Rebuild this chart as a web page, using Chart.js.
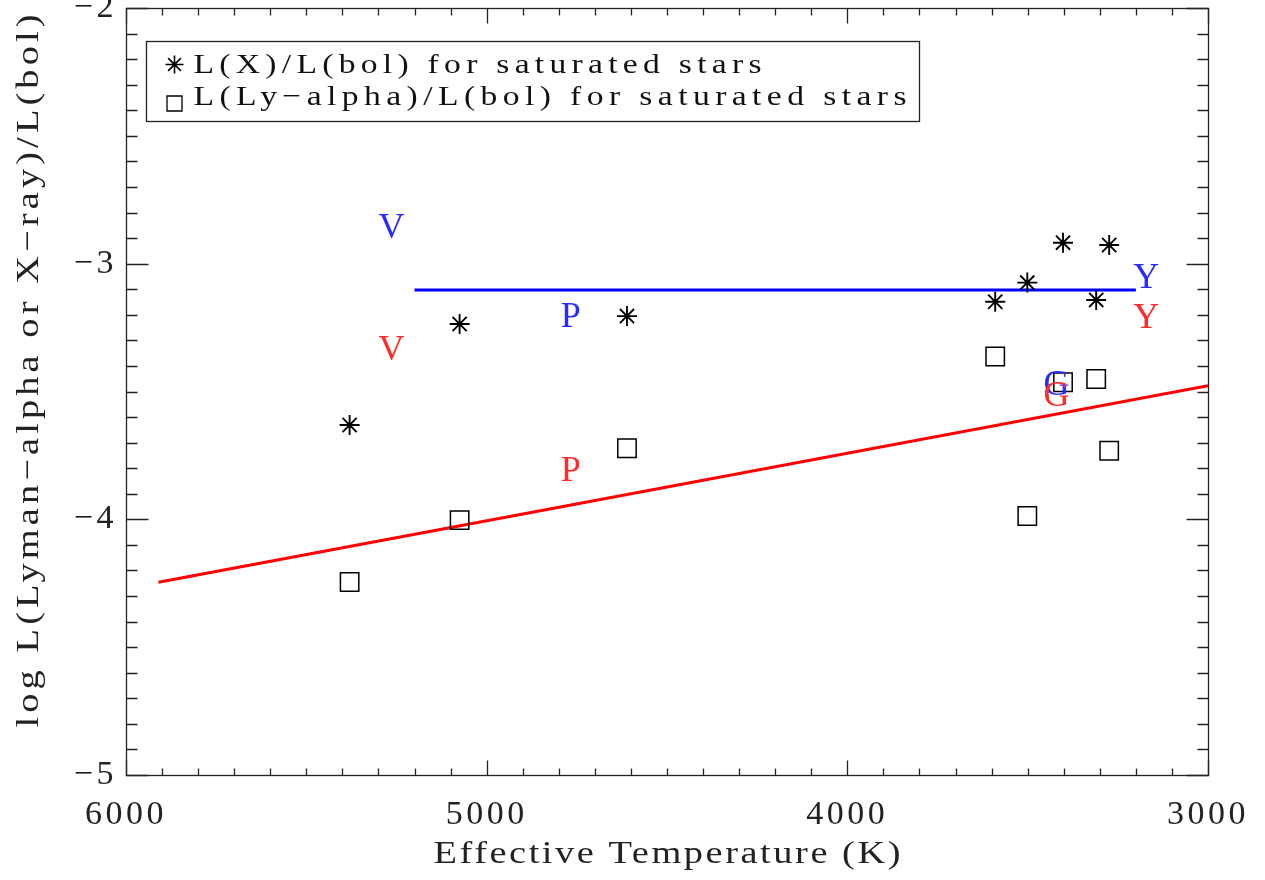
<!DOCTYPE html>
<html>
<head>
<meta charset="utf-8">
<script src="https://cdn.jsdelivr.net/npm/chart.js@4/dist/chart.umd.min.js"></script>
<style>
  html, body { margin: 0; padding: 0; background: #fff; }
  canvas { display: block; }
</style>
</head>
<body>
<canvas id="c" width="1265" height="880"></canvas>
<script>
// Effective temperature (K) of the saturated stars
const temperatures = [5380, 5075, 4611, 3590, 3501, 3402, 3310, 3274];
// log L(X)/L(bol) for each star
const logLxLbol = [-3.631, -3.236, -3.205, -3.149, -3.074, -2.918, -3.142, -2.927];
// log L(Ly-alpha)/L(bol) for each star
const logLyaLbol = [-4.245, -4.003, -3.722, -3.363, -3.987, -3.464, -3.451, -3.732];

// Fitted relations: X-ray (flat) and Ly-alpha (sloped)
const xrayFitT = [5200, 3200];
const xrayFitY = [-3.103, -3.103];
const lyaFitT = [5910, 3000];
const lyaFitY = [-4.246, -3.477];

// Letter markers for individual stars (V, P, G, Y)
const markLetters = ['V', 'P', 'G', 'Y'];
const markT = [5264, 4767, 3420, 3171];
const xrayMarkY = [-2.864, -3.212, -3.478, -3.060];
const lyaMarkY = [-3.338, -3.815, -3.521, -3.216];

// Axis ticks and titles
const tempTicks = [6000, 5000, 4000, 3000];
const logTicks = [-5, -4, -3, -2];
const tempMinorStep = 100;
const logMinorPerMajor = 10;
const xTitle = 'Effective Temperature (K)';
const yTitle = 'log L(Lyman\u2212alpha or X\u2212ray)/L(bol)';

const xrayLabel = 'L(X)/L(bol) for saturated stars';
const lyaLabel = 'L(Ly\u2212alpha)/L(bol) for saturated stars';

const SERIF = '"Liberation Serif", "Times New Roman", serif';
const INK = '#222';

function pts(xs, ys) { return xs.map((v, i) => ({ x: v, y: ys[i] })); }

function drawMarker(ctx, style, radius, x, y, lw) {
  ctx.save();
  ctx.strokeStyle = '#000';
  ctx.fillStyle = 'rgba(0,0,0,0)';
  ctx.lineWidth = lw;
  if (Chart.helpers && Chart.helpers.drawPoint) {
    Chart.helpers.drawPoint(ctx, { pointStyle: style, radius: radius, rotation: 0, borderWidth: lw }, x, y);
  } else if (style === 'rect') {
    const s = radius * Math.SQRT1_2;
    ctx.strokeRect(x - s, y - s, 2 * s, 2 * s);
  } else {
    ctx.beginPath();
    for (let k = 0; k < 4; k++) {
      const a = k * Math.PI / 4;
      ctx.moveTo(x - Math.cos(a) * radius, y - Math.sin(a) * radius);
      ctx.lineTo(x + Math.cos(a) * radius, y + Math.sin(a) * radius);
    }
    ctx.stroke();
  }
  ctx.restore();
}

// Wide, slightly stretched lettering that fills a given run length
function fitText(ctx, text, x, y, width, sx, align) {
  ctx.letterSpacing = '0px';
  const w0 = ctx.measureText(text).width;
  const sp = Math.max(0, (width / sx - w0) / (text.length - 1));
  let left = x;
  if (align === 'center') left = x - width / 2;
  else if (align === 'right') left = x - width;
  ctx.save();
  ctx.letterSpacing = sp + 'px';
  ctx.translate(left, y);
  ctx.scale(sx, 1);
  ctx.textAlign = 'left';
  ctx.fillText(text, 0, 0);
  ctx.restore();
  ctx.letterSpacing = '0px';
}

const framePlugin = {
  id: 'frame',
  beforeDraw(chart) { chart.ctx.letterSpacing = '3.5px'; },
  beforeDatasetsDraw(chart) { chart.ctx.letterSpacing = '0px'; },
  afterDatasetsDraw(chart) {
    const { ctx, chartArea: a, scales: { x, y } } = chart;
    ctx.save();
    ctx.strokeStyle = INK;
    ctx.lineWidth = 1.3;
    const L = Math.round(a.left) + 0.5, R = Math.round(a.right) + 0.5;
    const T = Math.round(a.top) + 0.5, B = Math.round(a.bottom) + 0.5;
    ctx.strokeRect(L, T, R - L, B - T);

    ctx.beginPath();
    // temperature ticks, top and bottom, pointing inward
    const tMin = Math.min(...tempTicks), tMax = Math.max(...tempTicks);
    for (let t = tMin; t <= tMax; t += tempMinorStep) {
      const px = Math.round(x.getPixelForValue(t)) + 0.5;
      const len = tempTicks.includes(t) ? 15 : 7;
      ctx.moveTo(px, B); ctx.lineTo(px, B - len);
      ctx.moveTo(px, T); ctx.lineTo(px, T + len);
    }
    // log ticks, left and right, pointing inward
    const yMin = Math.min(...logTicks), yMax = Math.max(...logTicks);
    const n = (yMax - yMin) * logMinorPerMajor;
    for (let k = 0; k <= n; k++) {
      const v = yMin + k / logMinorPerMajor;
      const py = Math.round(y.getPixelForValue(v)) + 0.5;
      const len = (k % logMinorPerMajor === 0) ? 22 : 11;
      ctx.moveTo(L, py); ctx.lineTo(L + len, py);
      ctx.moveTo(R, py); ctx.lineTo(R - len, py);
    }
    ctx.stroke();

    // letter markers
    ctx.font = '36px ' + SERIF;
    ctx.textAlign = 'center';
    ctx.textBaseline = 'middle';
    markLetters.forEach((ch, i) => {
      const px = x.getPixelForValue(markT[i]);
      ctx.fillStyle = '#2b2bff';
      ctx.fillText(ch, px, y.getPixelForValue(xrayMarkY[i]));
      ctx.fillStyle = '#ff2b2b';
      ctx.fillText(ch, px, y.getPixelForValue(lyaMarkY[i]));
    });
    ctx.restore();
  },
  afterDraw(chart) {
    const { ctx, chartArea: a } = chart;
    ctx.save();
    ctx.fillStyle = INK;
    ctx.textBaseline = 'alphabetic';

    // axis titles
    ctx.font = '32px ' + SERIF;
    fitText(ctx, xTitle, (a.left + a.right) / 2, 863, 467, 1.2, 'center');

    ctx.save();
    ctx.translate(38, 371);
    ctx.rotate(-Math.PI / 2);
    ctx.font = '32px ' + SERIF;
    fitText(ctx, yTitle, 0, 0, 713, 1.2, 'center');
    ctx.restore();

    // legend box
    const lx = Math.round(a.left) + 20.5, ly = Math.round(a.top) + 33.5;
    ctx.strokeStyle = INK;
    ctx.lineWidth = 1.3;
    ctx.strokeRect(lx, ly, 773, 80);

    const ds = chart.data.datasets;
    drawMarker(ctx, ds[0].pointStyle, 9, lx + 28, ly + 23, 1.6);
    drawMarker(ctx, ds[1].pointStyle, 10.6, lx + 28, ly + 62, 1.3);
    ctx.fillStyle = '#111';
    ctx.font = '28px ' + SERIF;
    fitText(ctx, ds[0].label, lx + 47, ly + 31, 568, 1.2, 'left');
    fitText(ctx, ds[1].label, lx + 47, ly + 63, 713, 1.2, 'left');
    ctx.restore();
  }
};

new Chart(document.getElementById('c'), {
  type: 'scatter',
  data: {
    datasets: [
      {
        label: xrayLabel,
        data: pts(temperatures, logLxLbol),
        pointStyle: 'star',
        pointRadius: 10,
        borderColor: '#000',
        backgroundColor: 'rgba(0,0,0,0)',
        borderWidth: 1.9
      },
      {
        label: lyaLabel,
        data: pts(temperatures, logLyaLbol),
        pointStyle: 'rect',
        pointRadius: 13,
        borderColor: '#000',
        backgroundColor: 'rgba(0,0,0,0)',
        borderWidth: 1.5
      },
      {
        label: 'X-ray fit',
        data: pts(xrayFitT, xrayFitY),
        showLine: true,
        pointRadius: 0,
        borderColor: '#0000ff',
        borderWidth: 3
      },
      {
        label: 'Ly-alpha fit',
        data: pts(lyaFitT, lyaFitY),
        showLine: true,
        pointRadius: 0,
        borderColor: '#ff0000',
        borderWidth: 3
      }
    ]
  },
  options: {
    responsive: false,
    animation: false,
    devicePixelRatio: 1,
    layout: { autoPadding: false, padding: { top: 8, right: 57, left: 0, bottom: 0 } },
    plugins: { legend: { display: false }, tooltip: { enabled: false } },
    scales: {
      x: {
        type: 'linear',
        position: 'bottom',
        min: Math.min(...tempTicks),
        max: Math.max(...tempTicks),
        reverse: true,
        afterBuildTicks: s => { s.ticks = tempTicks.map(v => ({ value: v })); },
        afterFit: s => { s.height = 105; s.paddingLeft = 0; s.paddingRight = 0; },
        grid: { display: false, drawTicks: false },
        border: { display: false },
        ticks: {
          font: { family: SERIF, size: 34 },
          color: INK,
          padding: 20,
          maxRotation: 0,
          autoSkip: false,
          callback: v => String(v)
        }
      },
      y: {
        type: 'linear',
        position: 'left',
        min: Math.min(...logTicks),
        max: Math.max(...logTicks),
        afterBuildTicks: s => { s.ticks = logTicks.map(v => ({ value: v })); },
        afterFit: s => { s.width = 126; s.paddingTop = 0; s.paddingBottom = 0; },
        grid: { display: false, drawTicks: false },
        border: { display: false },
        ticks: {
          font: { family: SERIF, size: 34 },
          color: INK,
          padding: 9,
          autoSkip: false,
          callback: v => (v < 0 ? '\u2212' + Math.abs(v) : String(v))
        }
      }
    }
  },
  plugins: [framePlugin]
});
</script>
</body>
</html>
